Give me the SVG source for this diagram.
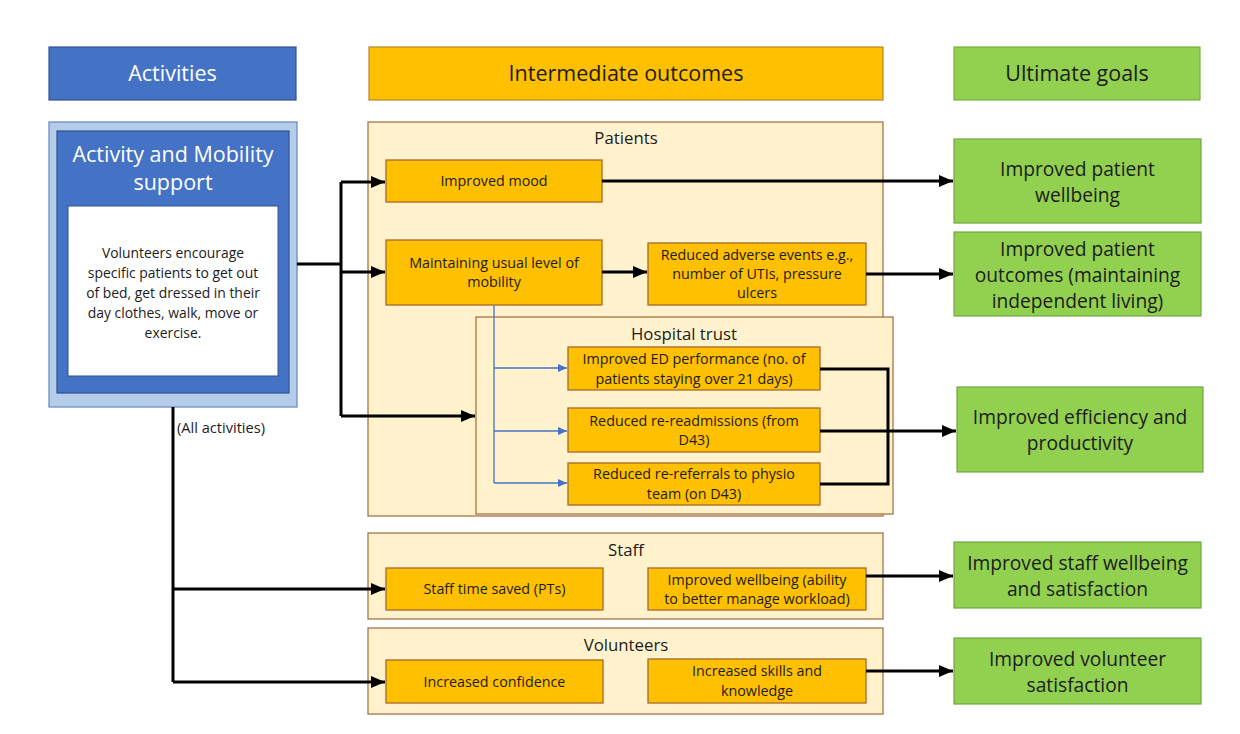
<svg xmlns="http://www.w3.org/2000/svg" width="1240" height="734" viewBox="0 0 1240 734">
<defs>
<marker id="ah" markerWidth="14" markerHeight="12" refX="14" refY="6" orient="auto" markerUnits="userSpaceOnUse"><path d="M0,0 L14,6 L0,12 Z" fill="#000"/></marker>
<marker id="bh" markerWidth="9" markerHeight="8" refX="9" refY="4" orient="auto" markerUnits="userSpaceOnUse"><path d="M0,0 L9,4 L0,8 Z" fill="#4472C4"/></marker>
<style>
text{font-family:"Open Sans","Liberation Sans",sans-serif;text-anchor:middle;fill:#1c1c1c}
.hb{fill:#4472C4;stroke:#2F528F;stroke-width:1.2}
.ho{fill:#FFC000;stroke:#B7862A;stroke-width:1.2}
.hg{fill:#92D050;stroke:#7AAE45;stroke-width:1.2}
.cream{fill:#FFF2CC;stroke:#A87448;stroke-width:1.3}
.ob{fill:#FFC000;stroke:#A8692C;stroke-width:1.3}
.gb{fill:#92D050;stroke:#72A644;stroke-width:1.2}
.ht{font-size:21.5px}
.wt{fill:#fff}
.st{font-size:14.3px}
.gt{font-size:19.2px}
.lt{font-size:16.8px}
.blk{fill:none;stroke:#000;stroke-width:3}
.blu{fill:none;stroke:#4472C4;stroke-width:1.3}
</style>
</defs>
<rect width="1240" height="734" fill="#fff"/>

<g id="hdr-activities"><rect class="hb" x="49" y="47" width="247" height="53"/><text class="ht wt" x="172.5" y="81">Activities</text></g>
<g id="hdr-intermediate"><rect class="ho" x="369" y="47" width="514" height="53"/><text class="ht" x="626" y="81">Intermediate outcomes</text></g>
<g id="hdr-ultimate"><rect class="hg" x="954" y="47" width="246" height="53"/><text class="ht" x="1077" y="81">Ultimate goals</text></g>

<g id="activity">
<rect x="49" y="122" width="248" height="285" fill="#B4CBEA" stroke="#6C8EBF" stroke-width="1.3"/>
<rect x="57" y="131" width="232" height="262" fill="#4472C4" stroke="#2F528F" stroke-width="1.2"/>
<text class="wt" style="font-size:21.5px" x="173" y="162">Activity and Mobility</text>
<text class="wt" style="font-size:21.5px" x="173" y="190">support</text>
<rect x="68" y="206" width="210" height="170" fill="#fff" stroke="#2F528F" stroke-width="1"/>
<text style="font-size:13.9px" x="173" y="258">Volunteers encourage</text>
<text style="font-size:13.9px" x="173" y="278">specific patients to get out</text>
<text style="font-size:13.9px" x="173" y="298">of bed, get dressed in their</text>
<text style="font-size:13.9px" x="173" y="318">day clothes, walk, move or</text>
<text style="font-size:13.9px" x="173" y="338">exercise.</text>
</g>

<g id="grp-patients"><rect class="cream" x="368" y="122" width="515" height="394"/><text class="lt" x="626" y="144">Patients</text></g>
<g id="grp-hospital"><rect class="cream" x="476" y="317" width="417" height="197"/><text class="lt" x="684" y="340">Hospital trust</text></g>
<g id="grp-staff"><rect class="cream" x="368" y="533" width="515" height="86"/><text class="lt" x="626" y="556">Staff</text></g>
<g id="grp-volunteers"><rect class="cream" x="368" y="628" width="515" height="86"/><text class="lt" x="626" y="651">Volunteers</text></g>

<g id="n-mood"><rect class="ob" x="386" y="160" width="216" height="42"/><text class="st" x="494" y="186">Improved mood</text></g>
<g id="n-mobility"><rect class="ob" x="386" y="240" width="216" height="65"/><text class="st" x="494" y="268">Maintaining usual level of</text><text class="st" x="494" y="287">mobility</text></g>
<g id="n-adverse"><rect class="ob" x="648" y="243" width="218" height="62"/><text class="st" x="757" y="260">Reduced adverse events e.g.,</text><text class="st" x="757" y="279">number of UTIs, pressure</text><text class="st" x="757" y="298">ulcers</text></g>
<g id="n-ed"><rect class="ob" x="568" y="347" width="252" height="43"/><text class="st" x="694" y="364">Improved ED performance (no. of</text><text class="st" x="694" y="384">patients staying over 21 days)</text></g>
<g id="n-readm"><rect class="ob" x="568" y="408" width="252" height="44"/><text class="st" x="694" y="426">Reduced re-readmissions (from</text><text class="st" x="694" y="445">D43)</text></g>
<g id="n-referral"><rect class="ob" x="568" y="463" width="252" height="42"/><text class="st" x="694" y="479">Reduced re-referrals to physio</text><text class="st" x="694" y="499">team (on D43)</text></g>
<g id="n-stafftime"><rect class="ob" x="386" y="568" width="217" height="42"/><text class="st" x="494.5" y="594">Staff time saved (PTs)</text></g>
<g id="n-staffwell"><rect class="ob" x="648" y="568" width="218" height="42"/><text class="st" x="757" y="585">Improved wellbeing (ability</text><text class="st" x="757" y="604">to better manage workload)</text></g>
<g id="n-confidence"><rect class="ob" x="386" y="660" width="217" height="43"/><text class="st" x="494.5" y="687">Increased confidence</text></g>
<g id="n-skills"><rect class="ob" x="648" y="659" width="218" height="44"/><text class="st" x="757" y="676">Increased skills and</text><text class="st" x="757" y="696">knowledge</text></g>

<g id="g-wellbeing"><rect class="gb" x="954" y="139" width="247" height="84"/><text class="gt" x="1077.5" y="176">Improved patient</text><text class="gt" x="1077.5" y="202">wellbeing</text></g>
<g id="g-outcomes"><rect class="gb" x="954" y="232" width="247" height="84"/><text class="gt" x="1077.5" y="256">Improved patient</text><text class="gt" x="1077.5" y="282">outcomes (maintaining</text><text class="gt" x="1077.5" y="308">independent living)</text></g>
<g id="g-efficiency"><rect class="gb" x="957" y="387" width="246" height="85"/><text class="gt" x="1080" y="424">Improved efficiency and</text><text class="gt" x="1080" y="450">productivity</text></g>
<g id="g-staff"><rect class="gb" x="954" y="542" width="247" height="66"/><text class="gt" x="1077.5" y="570">Improved staff wellbeing</text><text class="gt" x="1077.5" y="596">and satisfaction</text></g>
<g id="g-volunteer"><rect class="gb" x="954" y="638" width="247" height="66"/><text class="gt" x="1077.5" y="666">Improved volunteer</text><text class="gt" x="1077.5" y="692">satisfaction</text></g>

<text id="lbl-all" style="font-size:14.6px;text-anchor:start" x="177" y="433">(All activities)</text>

<g id="connectors">
<path class="blk" d="M297,264 H341"/>
<path class="blk" d="M341,182 V416"/>
<path class="blk" d="M341,182 H385" marker-end="url(#ah)"/>
<path class="blk" d="M341,272 H385" marker-end="url(#ah)"/>
<path class="blk" d="M341,416 H475" marker-end="url(#ah)"/>
<path class="blk" d="M173,407 V682"/>
<path class="blk" d="M173,589 H385" marker-end="url(#ah)"/>
<path class="blk" d="M173,682 H385" marker-end="url(#ah)"/>
<path class="blk" d="M602,272 H647" marker-end="url(#ah)"/>
<path class="blk" d="M602,181 H953" marker-end="url(#ah)"/>
<path class="blk" d="M866,274 H953" marker-end="url(#ah)"/>
<path class="blk" d="M820,369 H888 V484 H820"/>
<path class="blk" d="M820,431 H956" marker-end="url(#ah)"/>
<path class="blk" d="M866,576 H953" marker-end="url(#ah)"/>
<path class="blk" d="M866,671 H953" marker-end="url(#ah)"/>
<path class="blu" d="M494,305 V483"/>
<path class="blu" d="M494,368 H567" marker-end="url(#bh)"/>
<path class="blu" d="M494,431 H567" marker-end="url(#bh)"/>
<path class="blu" d="M494,483 H567" marker-end="url(#bh)"/>
</g>
</svg>
